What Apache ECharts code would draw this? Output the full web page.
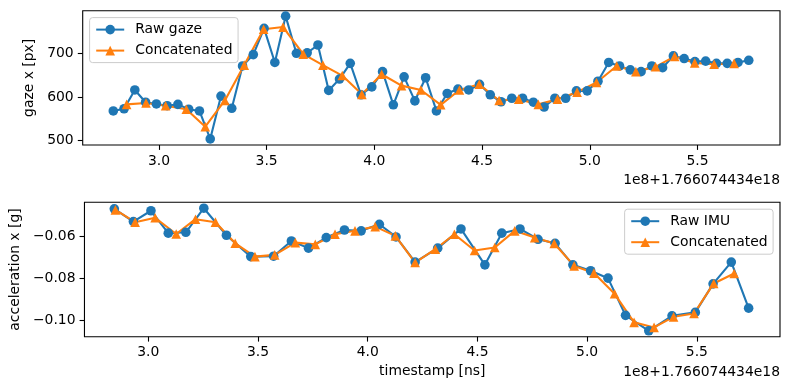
<!DOCTYPE html>
<html>
<head>
<meta charset="utf-8">
<script src="https://cdn.jsdelivr.net/npm/echarts@6/dist/echarts.min.js"></script>
<style>
html,body{margin:0;padding:0;background:#fff;}
#c{width:790px;height:390px;}
</style>
</head>
<body>
<div id="c"></div>
<script>
// ---- data (x in units of 1e8 ns, offset 1.766074434e18) ----
var gazeTime = [2.788,2.838,2.888,2.938,2.988,3.038,3.088,3.138,3.188,3.238,3.288,3.338,3.388,3.438,3.488,3.538,3.588,3.638,3.688,3.738,3.788,3.838,3.888,3.938,3.988,4.038,4.088,4.138,4.188,4.238,4.288,4.338,4.388,4.438,4.488,4.538,4.588,4.638,4.688,4.738,4.788,4.838,4.888,4.938,4.988,5.038,5.088,5.138,5.188,5.238,5.288,5.338,5.388,5.438,5.488,5.538,5.588,5.638,5.688,5.738];
var gazeRaw = [568,573,616,588,584,580,583,572,568,504,602,574,671,697,757,679,785,700,701,719,615,641,677,605,623,658,582,646,591,644,568,608,618,616,629,605,589,597,597,588,577,597,597,614,614,636,679,671,662,658,671,667,694,688,681,682,677,677,679,684];
var concatTime = [2.850,2.940,3.031,3.127,3.215,3.306,3.396,3.486,3.576,3.670,3.761,3.851,3.942,4.034,4.126,4.216,4.308,4.395,4.487,4.579,4.670,4.761,4.850,4.941,5.031,5.125,5.214,5.305,5.394,5.487,5.577,5.670];
var gazeConcat = [583,586,580,572,532,592,673,755,760,698,673,649,606,652,626,616,582,616,629,592,595,583,595,611,633,671,658,669,693,678,675,677];
var imuTime = [2.845,2.932,3.012,3.091,3.171,3.253,3.356,3.467,3.571,3.652,3.730,3.811,3.894,3.970,4.053,4.129,4.216,4.319,4.425,4.534,4.611,4.694,4.776,4.854,4.935,5.016,5.095,5.175,5.281,5.387,5.493,5.574,5.657,5.736];
var imuRaw = [-0.0472,-0.0532,-0.0481,-0.0587,-0.0583,-0.0469,-0.0597,-0.0698,-0.0696,-0.0624,-0.0658,-0.0608,-0.0572,-0.0576,-0.0545,-0.0605,-0.0724,-0.0658,-0.0567,-0.0737,-0.0587,-0.0567,-0.0616,-0.0635,-0.0737,-0.0765,-0.0800,-0.0976,-0.1049,-0.0978,-0.0962,-0.0827,-0.0724,-0.0942];
var imuConcat = [-0.0477,-0.0535,-0.0514,-0.0591,-0.0521,-0.0535,-0.0635,-0.0698,-0.0690,-0.0632,-0.0640,-0.0592,-0.0576,-0.0556,-0.0600,-0.0726,-0.0663,-0.0592,-0.0669,-0.0655,-0.0576,-0.0608,-0.0636,-0.0742,-0.0776,-0.0874,-0.1009,-0.1033,-0.0983,-0.0967,-0.0825,-0.0778];
var xTicks = [3.0,3.5,4.0,4.5,5.0,5.5];
var gazeTicks = [500,600,700];
var imuTicks = [-0.10,-0.08,-0.06];
var offsetText = '1e8+1.766074434e18';

function pairs(xs, ys){ return xs.map(function(x,i){ return [x, ys[i]]; }); }

var FONT = 'DejaVu Sans';
var FS = 13.9;
var BLUE = '#1f77b4', ORANGE = '#ff7f0e';

function xAxisCfg(idx, min, max, name){
  return {
    type:'value', gridIndex: idx, min: min, max: max,
    axisLine:{show:false},
    splitLine:{show:false},
    axisTick:{show:true, customValues: xTicks, length:4.9, lineStyle:{color:'#000', width:1.1}},
    axisLabel:{show:true, customValues: xTicks, margin:9, color:'#000', fontFamily:FONT, fontSize:FS,
      formatter:function(v){ return v.toFixed(1); }},
    name: name || '', nameLocation:'middle', nameGap: 28,
    nameTextStyle:{color:'#000', fontFamily:FONT, fontSize:FS}
  };
}
function yAxisCfg(idx, min, max, ticks, name, gap, fmt){
  return {
    type:'value', gridIndex: idx, min: min, max: max,
    axisLine:{show:false},
    splitLine:{show:false},
    axisTick:{show:true, customValues: ticks, length:4.9, lineStyle:{color:'#000', width:1.1}},
    axisLabel:{show:true, customValues: ticks, margin:9, color:'#000', fontFamily:FONT, fontSize:FS, formatter: fmt},
    name: name, nameLocation:'middle', nameGap: gap,
    nameTextStyle:{color:'#000', fontFamily:FONT, fontSize:FS}
  };
}
function lineSeries(name, xi, yi, data, color, symbol){
  return {
    type:'line', name:name, xAxisIndex:xi, yAxisIndex:yi, data:data,
    symbol:symbol, symbolSize:9.6, showSymbol:true,
    itemStyle:{color:color}, lineStyle:{color:color, width:2.1},
    emphasis:{disabled:true}, animation:false, clip:false
  };
}
function legendCfg(names, pos){
  var l = {
    orient:'vertical', data:names, itemWidth:28, itemHeight:12, itemGap:7,
    padding:[5,5.6,5,5.6], backgroundColor:'rgba(255,255,255,0.8)',
    borderColor:'#cccccc', borderWidth:1, borderRadius:3,
    textStyle:{color:'#000', fontFamily:FONT, fontSize:FS, padding:[0,0,0,6]},
    selectedMode:false
  };
  for (var k in pos) l[k] = pos[k];
  return l;
}

var chart = echarts.init(document.getElementById('c'), null, {renderer:'canvas'});
chart.setOption({
  animation:false,
  backgroundColor:'#fff',
  grid:[
    {left:82.7, top:10.7, width:697.3, height:134.3, show:true, borderColor:'#000', borderWidth:1.1, backgroundColor:'transparent'},
    {left:82.7, top:202.3, width:697.3, height:134.4, show:true, borderColor:'#000', borderWidth:1.1, backgroundColor:'transparent'}
  ],
  xAxis:[
    xAxisCfg(0, 2.646, 5.883, ''),
    xAxisCfg(1, 2.709, 5.879, 'timestamp [ns]')
  ],
  yAxis:[
    yAxisCfg(0, 490, 797.5, gazeTicks, 'gaze x [px]', 41, function(v){ return String(Math.round(v)); }),
    yAxisCfg(1, -0.1077, -0.0441, imuTicks, 'acceleration x [g]', 57, function(v){ return v.toFixed(2).replace('-', '\u2212'); })
  ],
  legend:[
    legendCfg(['Raw gaze','Concatenated'], {left:89.6, top:17.6}),
    legendCfg(['Raw IMU','Concatenated'], {right:16.9, top:209.2})
  ],
  series:[
    lineSeries('Raw gaze', 0, 0, pairs(gazeTime, gazeRaw), BLUE, 'circle'),
    lineSeries('Concatenated', 0, 0, pairs(concatTime, gazeConcat), ORANGE, 'triangle'),
    lineSeries('Raw IMU', 1, 1, pairs(imuTime, imuRaw), BLUE, 'circle'),
    lineSeries('Concatenated', 1, 1, pairs(concatTime, imuConcat), ORANGE, 'triangle')
  ],
  graphic:[
    {type:'text', x:780, y:180, style:{text:offsetText, align:'right', verticalAlign:'middle', fill:'#000', font: FS+'px "'+FONT+'"'}},
    {type:'text', x:780, y:372, style:{text:offsetText, align:'right', verticalAlign:'middle', fill:'#000', font: FS+'px "'+FONT+'"'}}
  ]
});
</script>
</body>
</html>
